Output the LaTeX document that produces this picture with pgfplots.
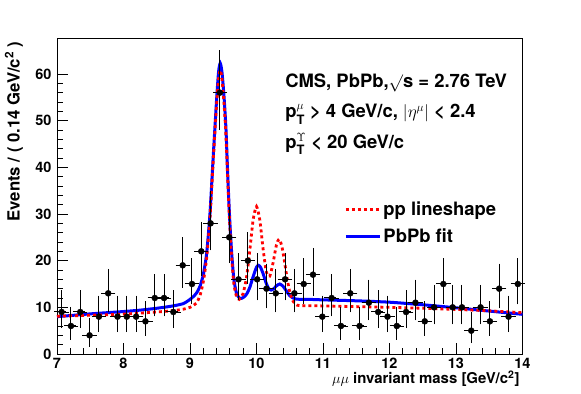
\documentclass[border=0pt]{standalone}
\usepackage{amsmath}
\usepackage{pgfplots}
\pgfplotsset{compat=1.18}
\usepackage{pgfplotstable}
\usepackage{fontspec}
\setmainfont{TeX Gyre Heros}

% data: 0.14 GeV bins, asymmetric Poisson errors
\pgfplotstableread{
x y em ep
7.07 9 2.94 4.11
7.21 6 2.38 3.58
7.35 9 2.94 4.11
7.49 4 1.91 3.16
7.63 8 2.77 3.95
7.77 13 3.56 4.70
7.91 8 2.77 3.95
8.05 8 2.77 3.95
8.19 8 2.77 3.95
8.33 7 2.58 3.77
8.47 12 3.42 4.56
8.61 12 3.42 4.56
8.75 9 2.94 4.11
8.89 19 4.32 5.43
9.03 15 3.83 4.96
9.17 22 4.66 5.75
9.31 28 5.26 6.35
9.45 56 7.46 8.54
9.59 25 4.97 6.06
9.73 16 3.96 5.08
9.87 20 4.44 5.54
10.01 16 3.96 5.08
10.15 14 3.70 4.83
10.29 13 3.56 4.70
10.43 16 3.96 5.08
10.57 13 3.56 4.70
10.71 15 3.83 4.96
10.85 17 4.08 5.20
10.99 8 2.77 3.95
11.13 12 3.42 4.56
11.27 6 2.38 3.58
11.41 13 3.56 4.70
11.55 6 2.38 3.58
11.69 11 3.27 4.42
11.83 9 2.94 4.11
11.97 8 2.77 3.95
12.11 6 2.38 3.58
12.25 9 2.94 4.11
12.39 11 3.27 4.42
12.53 7 2.58 3.77
12.67 10 3.11 4.26
12.81 15 3.83 4.96
12.95 10 3.11 4.26
13.09 10 3.11 4.26
13.23 5 2.16 3.38
13.37 10 3.11 4.26
13.51 7 2.58 3.77
13.65 14 3.70 4.83
13.79 8 2.77 3.95
13.93 15 3.83 4.96
}\data

\newcommand{\txtbig}{\bfseries\fontsize{18.5}{22}\selectfont}

\begin{document}
\begin{tikzpicture}
\begin{axis}[
  at={(57bp,40bp)}, anchor=south west,
  scale only axis, width=465.5bp, height=315.7bp,
  xmin=7, xmax=14, ymin=0, ymax=67.65,
  xtick={7,...,14}, ytick={0,10,...,60},
  minor x tick num=4, minor y tick num=4,
  tick align=inside, tick pos=left,
  major tick length=11bp, minor tick length=6bp,
  axis line style={line width=0.8bp},
  every tick/.style={black, line width=0.8bp},
  ticklabel style={font=\bfseries\fontsize{14.5}{17}\selectfont},
  /pgf/number format/assume math mode=true,
  xticklabel style={yshift=-0.5bp},
  yticklabel style={xshift=-2bp},
  clip=false,
  legend style={at={(axis cs:11.32,33.0)}, anchor=north west, draw=none, fill=none,
    font=\txtbig, row sep=7bp, inner sep=0pt, nodes={inner sep=2bp}},
  legend cell align=left,
  reverse legend,
  legend image code/.code={\draw[#1] (0bp,0bp) -- (34bp,0bp);},
]
\addplot[blue, line width=3bp, smooth, tension=0.4] coordinates {
  (7.0,8.0) (7.25,8.3) (7.5,8.6) (7.75,8.85) (8.0,9.1) (8.25,9.4) (8.5,9.8)
  (8.7,10.2) (8.8,10.45) (8.9,10.8) (8.95,11.2) (9.0,11.7) (9.05,12.3)
  (9.10,13.1) (9.15,14.5) (9.20,17.0) (9.25,21.5) (9.30,30.0) (9.35,42.5)
  (9.40,54.5) (9.43,60.5) (9.455,62.3) (9.48,60.5) (9.51,55.5) (9.54,48.5)
  (9.57,37.5) (9.60,28.0) (9.63,21.0) (9.66,16.0) (9.70,13.0) (9.75,11.9)
  (9.80,12.1) (9.85,12.8) (9.90,14.3) (9.95,16.6) (10.00,18.6) (10.03,19.0)
  (10.06,18.6) (10.10,17.2) (10.14,15.4) (10.18,14.1) (10.22,13.7) (10.26,14.0)
  (10.30,14.6) (10.35,15.0) (10.40,14.5) (10.45,13.5) (10.50,12.5) (10.55,12.0)
  (10.60,11.75) (10.8,11.7) (11.0,11.6) (11.5,11.4) (12.0,11.1) (12.5,10.55)
  (13.0,9.9) (13.5,9.2) (14.0,8.5)};
\addlegendentry{PbPb fit}
\addplot[red, line width=2.8bp, dash pattern=on 3bp off 3bp, smooth, tension=0.4] coordinates {
  (7.0,8.1) (7.5,8.3) (8.0,8.55) (8.5,9.0) (8.75,9.3) (8.9,9.6) (9.0,10.0)
  (9.05,10.4) (9.10,11.0) (9.15,12.5) (9.20,15.5) (9.25,20.5) (9.30,29.0)
  (9.35,41.5) (9.40,53.5) (9.43,59.0) (9.455,60.8) (9.48,59.0) (9.51,54.0)
  (9.54,47.0) (9.57,36.5) (9.60,27.0) (9.63,20.0) (9.66,15.0) (9.70,12.3)
  (9.74,11.7) (9.78,12.4) (9.80,13.0) (9.85,16.4) (9.90,22.3) (9.95,28.8)
  (10.00,31.6) (10.05,28.7) (10.10,22.4) (10.15,17.5) (10.20,16.7) (10.25,19.6)
  (10.30,23.4) (10.34,24.6) (10.38,23.2) (10.42,19.9) (10.46,16.25) (10.50,13.35)
  (10.55,11.3) (10.60,10.57) (10.65,10.38) (11.0,10.3) (11.5,10.15) (12.0,10.0)
  (12.5,9.8) (13.0,9.55) (13.5,9.25) (14.0,8.85)};
\addlegendentry{pp lineshape}
\addplot[black, only marks, mark=*, mark size=3bp, forget plot,
  error bars/.cd, y dir=both, y explicit, x dir=both, x fixed=0.07,
  error bar style={line width=1bp, black}, error mark options={mark size=2.5bp, line width=1bp}]
  table[x=x, y=y, y error plus=ep, y error minus=em] {\data};

\node[anchor=base west, font=\txtbig] at (axis cs:10.38,57.0)
  {CMS, PbPb,$\surd$s = 2.76 TeV};
\node[anchor=base west, font=\txtbig] at (axis cs:10.38,50.6)
  {p$^{\mu}_{\textbf{T}}$ > 4 GeV/c, $|\eta^{\mu}|$ < 2.4};
\node[anchor=base west, font=\txtbig] at (axis cs:10.38,44.1)
  {p$^{\Upsilon}_{\textbf{T}}$ < 20 GeV/c};
\end{axis}
\node[rotate=90, anchor=base east, font=\bfseries\fontsize{16.8}{19}\selectfont] at (19.5bp,356bp)
  {Events / ( 0.14 GeV/c$^{\textbf{2}}$ )};
\node[anchor=base east, font=\bfseries\fontsize{15}{18}\selectfont] at (523bp,10.3bp)
  {$\mu\mu$ invariant mass [GeV/c$^{\textbf{2}}$]};
\pgfresetboundingbox
\useasboundingbox (0,0) rectangle (581bp,394bp);
\end{tikzpicture}
\end{document}
